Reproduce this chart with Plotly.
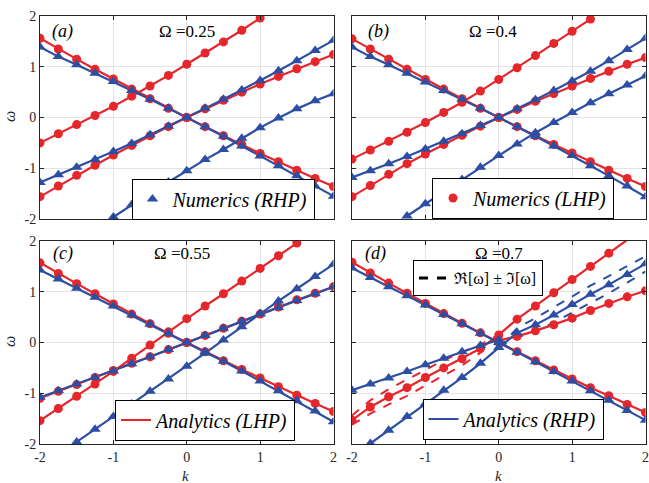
import plotly.graph_objects as go

W, H = 649, 483
N = None

k_vals = [-2.0, -1.75, -1.5, -1.25, -1.0, -0.75, -0.5, -0.25, 0.0,
          0.25, 0.5, 0.75, 1.0, 1.25, 1.5, 1.75, 2.0]
tick_vals = [-2, -1, 0, 1, 2]
tick_text = ["-2", "-1", "0", "1", "2"]
omegas = ["0.25", "0.4", "0.55", "0.7"]
panel_tags = ["(a)", "(b)", "(c)", "(d)"]

# ---- panel (a)  Omega = 0.25
a_red_dec = [1.56, 1.35, 1.15, 0.95, 0.76, 0.56, 0.37, 0.18, 0.0, -0.18, -0.36, -0.53, -0.71, -0.87, -1.04, -1.20, -1.36]
a_red_mid = [-1.56, -1.35, -1.14, -0.94, -0.74, -0.55, -0.36, -0.18, 0.0, 0.17, 0.34, 0.50, 0.66, 0.81, 0.96, 1.10, 1.24]
a_red_steep = [-0.50, -0.32, -0.14, 0.04, 0.22, 0.42, 0.62, 0.83, 1.05, 1.27, 1.49, 1.72, 1.96, N, N, N, N]
a_blue_dec = [1.39, 1.20, 1.04, 0.87, 0.71, 0.53, 0.36, 0.18, 0.0, -0.18, -0.37, -0.56, -0.76, -0.95, -1.15, -1.35, -1.55]
a_blue_mid = [-1.28, -1.13, -0.98, -0.83, -0.67, -0.51, -0.34, -0.17, 0.0, 0.18, 0.36, 0.54, 0.73, 0.92, 1.12, 1.32, 1.52]
a_blue_steep = [N, N, N, N, -1.96, -1.72, -1.49, -1.27, -1.05, -0.83, -0.63, -0.41, -0.20, -0.01, 0.17, 0.33, 0.47]

# ---- panel (b)  Omega = 0.4
b_red_dec = [1.55, 1.35, 1.15, 0.95, 0.75, 0.56, 0.37, 0.18, 0.0, -0.18, -0.36, -0.53, -0.70, -0.87, -1.04, -1.20, -1.36]
b_red_mid = [-1.56, -1.34, -1.12, -0.91, -0.72, -0.53, -0.35, -0.17, 0.0, 0.16, 0.32, 0.47, 0.62, 0.77, 0.91, 1.05, 1.18]
b_red_steep = [-0.82, -0.64, -0.47, -0.29, -0.10, 0.10, 0.30, 0.52, 0.75, 0.98, 1.22, 1.46, 1.70, 1.94, N, N, N]
b_blue_dec = [1.39, 1.20, 1.04, 0.87, 0.70, 0.53, 0.36, 0.18, 0.0, -0.18, -0.37, -0.56, -0.75, -0.95, -1.15, -1.35, -1.56]
b_blue_mid = [-1.18, -1.05, -0.91, -0.77, -0.62, -0.47, -0.32, -0.16, 0.0, 0.17, 0.35, 0.53, 0.72, 0.91, 1.12, 1.34, 1.56]
b_blue_steep = [N, N, N, -1.94, -1.70, -1.46, -1.22, -0.98, -0.75, -0.52, -0.30, -0.10, 0.10, 0.29, 0.47, 0.64, 0.82]

# ---- panel (c)  Omega = 0.55
c_red_dec = [1.57, 1.36, 1.16, 0.96, 0.76, 0.56, 0.37, 0.18, 0.0, -0.18, -0.36, -0.53, -0.70, -0.87, -1.04, -1.20, -1.36]
c_red_mid = [-1.10, -0.96, -0.83, -0.69, -0.55, -0.41, -0.28, -0.14, 0.0, 0.14, 0.28, 0.42, 0.56, 0.70, 0.84, 0.97, 1.10]
c_red_steep = [-1.54, -1.30, -1.06, -0.82, -0.57, -0.31, -0.05, 0.21, 0.47, 0.72, 0.96, 1.21, 1.46, 1.71, 1.96, N, N]
c_blue_dec = [1.43, 1.25, 1.07, 0.89, 0.72, 0.54, 0.36, 0.18, 0.0, -0.18, -0.37, -0.56, -0.76, -0.95, -1.15, -1.35, -1.56]
c_blue_mid = [-1.08, -0.95, -0.82, -0.69, -0.56, -0.42, -0.28, -0.14, 0.0, 0.14, 0.28, 0.42, 0.56, 0.69, 0.83, 0.96, 1.10]
c_blue_steep = [N, N, -1.96, -1.71, -1.46, -1.21, -0.96, -0.72, -0.47, -0.21, 0.05, 0.31, 0.57, 0.82, 1.06, 1.30, 1.54]

# ---- panel (d)  Omega = 0.7
d_red_dec = [1.58, 1.37, 1.17, 0.97, 0.77, 0.57, 0.38, 0.19, 0.0, -0.18, -0.36, -0.54, -0.72, -0.89, -1.05, -1.22, -1.38]
d_red_re = [-1.53, -1.27, -1.07, -0.89, -0.69, -0.50, -0.32, -0.12, 0.15, 0.46, 0.72, 0.98, 1.24, 1.50, 1.76, 2.02, N]
d_red_lo = [N, N, N, N, N, N, N, N, 0.04, 0.12, 0.23, 0.35, 0.48, 0.63, 0.77, 0.90, 1.02]
d_red_im = [0.09, 0.13, 0.15, 0.16, 0.16, 0.15, 0.13, 0.08, 0.0, N, N, N, N, N, N, N, N]
d_blue_dec = [1.47, 1.28, 1.10, 0.92, 0.74, 0.55, 0.37, 0.18, 0.0, -0.19, -0.38, -0.57, -0.76, -0.95, -1.14, -1.34, -1.53]
d_blue_re = [N, -1.99, -1.73, -1.46, -1.20, -0.94, -0.69, -0.41, -0.10, 0.19, 0.35, 0.54, 0.75, 0.95, 1.14, 1.34, 1.55]
d_blue_up = [-0.94, -0.82, -0.70, -0.57, -0.44, -0.31, -0.18, -0.06, 0.05, N, N, N, N, N, N, N, N]
d_blue_im = [N, N, N, N, N, N, N, N, 0.0, 0.09, 0.13, 0.15, 0.16, 0.17, 0.17, 0.16, 0.15]

RED = "#e5262b"
BLUE = "#2c4ea3"
FONT = "Liberation Serif, Times New Roman, DejaVu Serif, serif"
AX = "#262626"


def px(x):
    return x / W


def py(y):
    return 1 - y / H


def plus(re, im, s):
    return [None if (r is None or i is None) else r + s * i for r, i in zip(re, im)]


def inrange(vals):
    return [v if (v is not None and abs(v) <= 2.0) else None for v in vals]


panels = [
    dict(red=[a_red_dec, a_red_mid, a_red_steep], blue=[a_blue_dec, a_blue_mid, a_blue_steep], red_dash=[], blue_dash=[]),
    dict(red=[b_red_dec, b_red_mid, b_red_steep], blue=[b_blue_dec, b_blue_mid, b_blue_steep], red_dash=[], blue_dash=[]),
    dict(red=[c_red_dec, c_red_mid, c_red_steep], blue=[c_blue_dec, c_blue_mid, c_blue_steep], red_dash=[], blue_dash=[]),
    dict(red=[d_red_dec, d_red_re, d_red_lo], blue=[d_blue_dec, d_blue_re, d_blue_up],
         red_dash=[plus(d_red_re, d_red_im, 1), plus(d_red_re, d_red_im, -1)],
         blue_dash=[plus(d_blue_re, d_blue_im, 1), plus(d_blue_re, d_blue_im, -1)]),
]

legend_spec = {
    (0, "blue", "markers"): ("Numerics (RHP)", "legend"),
    (1, "red", "markers"): ("Numerics (LHP)", "legend2"),
    (2, "red", "lines"): ("Analytics (LHP)", "legend3"),
    (3, "blue", "lines"): ("Analytics (RHP)", "legend4"),
}

fig = go.Figure()
for p, pan in enumerate(panels):
    xa = "x" if p == 0 else f"x{p+1}"
    ya = "y" if p == 0 else f"y{p+1}"
    for col, key in ((RED, "red_dash"), (BLUE, "blue_dash")):
        for ys in pan[key]:
            fig.add_trace(go.Scatter(x=k_vals, y=ys, xaxis=xa, yaxis=ya, mode="lines",
                                     line=dict(color=col, width=2, dash="dash"),
                                     showlegend=False, hoverinfo="skip"))
    for cname, col in (("red", RED), ("blue", BLUE)):
        for i, ys in enumerate(pan[cname]):
            spec = legend_spec.get((p, cname, "lines")) if i == 0 else None
            fig.add_trace(go.Scatter(x=k_vals, y=ys, xaxis=xa, yaxis=ya, mode="lines",
                                     line=dict(color=col, width=2.2),
                                     name=spec[0] if spec else "",
                                     legend=spec[1] if spec else "legend",
                                     showlegend=bool(spec), hoverinfo="skip"))
    for cname, col, sym, sz in (("red", RED, "circle", 9), ("blue", BLUE, "triangle-up", 10)):
        for i, ys in enumerate(pan[cname]):
            spec = legend_spec.get((p, cname, "markers")) if i == 0 else None
            fig.add_trace(go.Scatter(x=k_vals, y=inrange(ys), xaxis=xa, yaxis=ya, mode="markers",
                                     marker=dict(color=col, symbol=sym, size=sz, line=dict(width=0)),
                                     name=spec[0] if spec else "",
                                     legend=spec[1] if spec else "legend",
                                     showlegend=bool(spec), hoverinfo="skip"))

fig.add_trace(go.Scatter(x=[None], y=[None], xaxis="x4", yaxis="y4", mode="lines",
                         line=dict(color="black", width=3, dash="dash"),
                         name="\u211c[\u03c9] \u00b1 \u2111[\u03c9]", legend="legend5", showlegend=True))

xdom = [[px(40), px(333.5)], [px(352), px(645.5)]]
ydom = [[py(219), py(16)], [py(444), py(241)]]

axis_common = dict(range=[-2, 2], tickvals=tick_vals, ticktext=tick_text, showgrid=True,
                   gridcolor="#e4e4e4", gridwidth=1, showline=True, linecolor=AX, linewidth=1,
                   mirror="allticks", ticks="inside", ticklen=4, tickcolor=AX, zeroline=False,
                   tickfont=dict(family=FONT, size=14, color=AX), automargin=False, fixedrange=True,
                   ticklabeloverflow="allow")

layout = dict(width=W, height=H, margin=dict(l=0, r=0, t=0, b=0),
              paper_bgcolor="white", plot_bgcolor="white", showlegend=True)
for p in range(4):
    col, row = p % 2, p // 2
    sx = "" if p == 0 else str(p + 1)
    layout["xaxis" + sx] = dict(axis_common, domain=xdom[col], anchor="y" + sx,
                                showticklabels=(row == 1))
    layout["yaxis" + sx] = dict(axis_common, domain=ydom[row], anchor="x" + sx,
                                showticklabels=(col == 0))

leg_common = dict(bgcolor="white", bordercolor="black", borderwidth=1, xanchor="center", yanchor="middle",
                  font=dict(family=FONT, size=20, color="black", style="italic"),
                  itemclick=False, itemdoubleclick=False, tracegroupgap=0)
layout["legend"] = dict(leg_common, x=px(223), y=py(199))
layout["legend2"] = dict(leg_common, x=px(523), y=py(198))
layout["legend3"] = dict(leg_common, x=px(205), y=py(420))
layout["legend4"] = dict(leg_common, x=px(513), y=py(419))
layout["legend5"] = dict(leg_common, x=px(478), y=py(278),
                         font=dict(family=FONT, size=16, color="black", style="normal"))
fig.update_layout(**layout)

centers = [(187, 31), (493, 31), (182, 253), (499, 253)]
tag_pos = [(62, 31), (378, 31), (63, 253), (375, 253)]
for p in range(4):
    cx, cy = centers[p]
    fig.add_annotation(x=px(cx), y=py(cy), xref="paper", yref="paper", showarrow=False,
                       text="\u03a9 =" + omegas[p], font=dict(family=FONT, size=17, color="black"),
                       xanchor="center", yanchor="middle")
    tx, ty = tag_pos[p]
    fig.add_annotation(x=px(tx), y=py(ty), xref="paper", yref="paper", showarrow=False,
                       text="<i>" + panel_tags[p] + "</i>", font=dict(family=FONT, size=18, color="black"),
                       xanchor="center", yanchor="middle")

for yy in (117, 342):
    fig.add_annotation(x=px(9), y=py(yy), xref="paper", yref="paper", showarrow=False,
                       text="<i>\u03c9</i>", textangle=-90, font=dict(family=FONT, size=16, color=AX),
                       xanchor="center", yanchor="middle", borderpad=0)
for xx in (186, 498):
    fig.add_annotation(x=px(xx), y=py(476), xref="paper", yref="paper", showarrow=False,
                       text="<i>k</i>", font=dict(family=FONT, size=15, color=AX),
                       xanchor="center", yanchor="middle", borderpad=0)

# remove the browser's default 8px body margin so the 649x483 figure fills the window exactly
fig.write_html("out.html", config={"displayModeBar": False},
               post_script="document.body.style.margin='0';document.body.style.overflow='hidden';")
